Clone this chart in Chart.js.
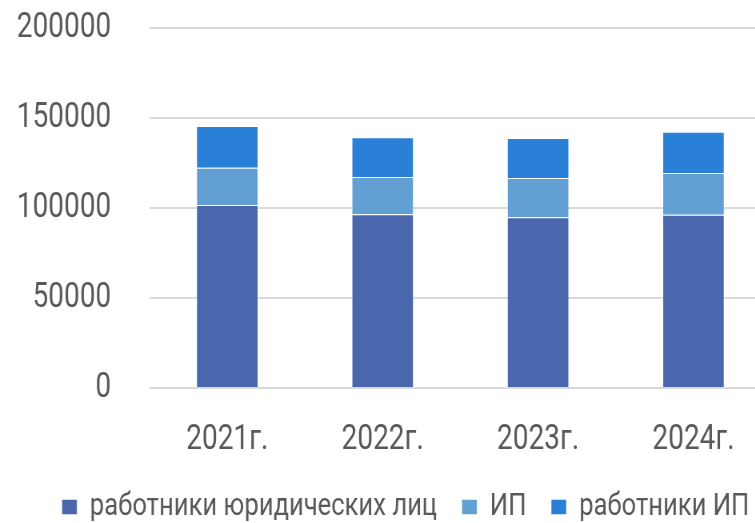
<!DOCTYPE html>
<html>
<head>
<meta charset="utf-8">
<script src="https://cdn.jsdelivr.net/npm/chart.js@4"></script>
<style>
  html, body { margin: 0; padding: 0; background: #fff; overflow: hidden; }
  /* squeeze horizontally so the text looks condensed like the original */
  #wrap { width: 1010px; height: 523px; position: relative; transform: scaleX(0.8); transform-origin: 0 0; }
</style>
</head>
<body>
<div id="wrap"><canvas id="chart"></canvas></div>
<script>
const years = ["2021г.", "2022г.", "2023г.", "2024г."];
const legalStaff = [101700, 96500, 94800, 96300];
const soleTraders = [20700, 20700, 21900, 23100];
const traderStaff = [23200, 22100, 22200, 23000];
const yTicks = [0, 50000, 100000, 150000, 200000];

Chart.defaults.font.family = "Roboto, sans-serif";
Chart.defaults.color = "#595959";

// nudge the legend a bit to the right, like in the original
const shiftLegend = {
  id: "shiftLegend",
  afterLayout(chart) {
    if (chart.legend) {
      chart.legend.left += 25;
      chart.legend.right += 25;
    }
  },
};

const ctx = document.getElementById("chart").getContext("2d");
const myChart = new Chart(ctx, {
  type: "bar",
  data: {
    labels: years,
    datasets: [
      {
        label: "работники юридических лиц",
        data: legalStaff,
        backgroundColor: "#4a66ad",
        borderColor: "rgba(255,255,255,0.5)",
        borderWidth: 1,
      },
      {
        label: "ИП",
        data: soleTraders,
        backgroundColor: "#629fd2",
        borderColor: "rgba(255,255,255,0.5)",
        borderWidth: 1,
      },
      {
        label: "работники ИП",
        data: traderStaff,
        backgroundColor: "#2a7fd7",
        borderColor: "rgba(255,255,255,0.5)",
        borderWidth: 1,
      },
    ],
  },
  options: {
    responsive: true,
    maintainAspectRatio: false,
    animation: false,
    layout: { padding: { top: 28, right: 46, left: 0, bottom: -10 } },
    datasets: { bar: { categoryPercentage: 1, barPercentage: 0.4 } },
    scales: {
      x: {
        stacked: true,
        grid: { display: false },
        border: { display: false },
        ticks: { font: { size: 35 }, padding: 23 },
        afterFit: (axis) => {
          axis.height -= 24;
        },
      },
      y: {
        stacked: true,
        min: 0,
        max: 200000,
        afterBuildTicks: (axis) => {
          axis.ticks = yTicks.map((v) => ({ value: v }));
        },
        afterFit: (axis) => {
          axis.width = 187;
        },
        grid: {
          color: "#d9d9d9",
          lineWidth: 2,
          drawTicks: true,
          tickLength: 48,
          tickColor: "rgba(0,0,0,0)",
        },
        border: { display: false },
        ticks: { font: { size: 35 }, padding: 0, callback: (v) => String(v) },
      },
    },
    plugins: {
      legend: {
        position: "bottom",
        labels: {
          font: { size: 32 },
          boxWidth: 19,
          boxHeight: 15,
          padding: 31,
        },
      },
      tooltip: { enabled: false },
    },
  },
  plugins: [shiftLegend],
});
</script>
</body>
</html>
